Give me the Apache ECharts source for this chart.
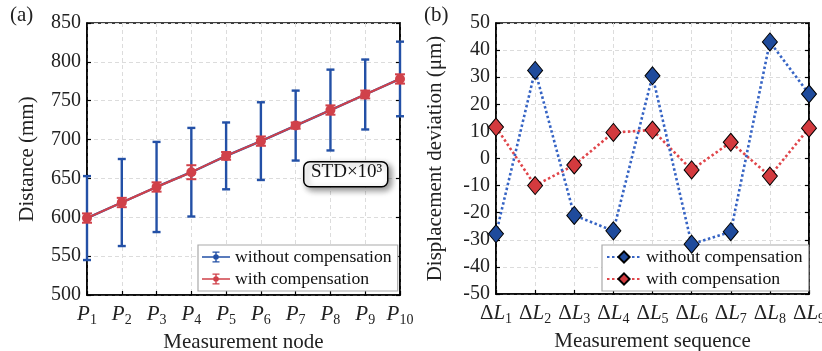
<!DOCTYPE html>
<html>
<head>
<meta charset="utf-8">
<script src="https://cdn.jsdelivr.net/npm/echarts@6/dist/echarts.min.js"></script>
<style>
  html, body { margin: 0; padding: 0; background: #fff; }
  #chart { width: 822px; height: 351px; }
</style>
</head>
<body>
<div id="chart"></div>
<script>
// (a) 测量节点距离
const nodes = ['1', '2', '3', '4', '5', '6', '7', '8', '9', '10']
const distMean = [599, 619, 639, 658, 679, 698, 718, 738, 758, 778]
const errWithout = [54, 56, 58, 57, 43, 50, 45, 52, 45, 48]
const errWith = [6, 6, 6, 9, 5, 6, 4, 6, 5, 6]

// (b) 位移偏差
const seqs = ['1', '2', '3', '4', '5', '6', '7', '8', '9']
const devWithout = [-27.8, 32.5, -21, -26.7, 30.5, -31.6, -27, 43, 23.8]
const devWith = [11.6, -10, -2.4, 9.6, 10.5, -4.2, 6, -6.5, 11.2]

const serif = 'Liberation Serif'
const blueBar = '#2350a6'
const redBar = '#d0414a'
const blueDot = '#3563c4'
const redDot = '#e0454a'

// 图例图标: 横线 + 误差棒 + 圆点.
const errIcon = 'path://M0,9H40V11H0Z M19,2H21V18H19Z M15,2H25V4H15Z M15,16H25V18H15Z M20,6A4,4 0 1 1 19.99,6Z'

const errData = (err) => distMean.map((m, i) => [i, m - err[i], m + err[i]])

const errorBar = (capHalf, width) => (params, api) => {
  const lo = api.coord([api.value(0), api.value(1)])
  const hi = api.coord([api.value(0), api.value(2)])
  const style = { stroke: api.visual('color'), lineWidth: width }
  return {
    type: 'group',
    children: [
      { type: 'line', shape: { x1: lo[0], y1: lo[1], x2: hi[0], y2: hi[1] }, style },
      { type: 'line', shape: { x1: lo[0] - capHalf, y1: lo[1], x2: lo[0] + capHalf, y2: lo[1] }, style },
      { type: 'line', shape: { x1: hi[0] - capHalf, y1: hi[1], x2: hi[0] + capHalf, y2: hi[1] }, style },
    ],
  }
}

// 所有文字都走 rich, 保证衬线字体生效.
const rich = {
  i: { fontFamily: serif, fontStyle: 'italic', fontSize: 21, color: '#222' },
  d: { fontFamily: serif, fontSize: 21, color: '#222' },
  s: { fontFamily: serif, fontSize: 14, color: '#222', padding: [12, 0, 0, 0], verticalAlign: 'bottom' },
  n: { fontFamily: serif, fontSize: 20, color: '#222' },
  t: { fontFamily: serif, fontSize: 21, color: '#222' },
  g: { fontFamily: serif, fontSize: 17.7, color: '#111' },
}

const splitLine = { show: true, lineStyle: { color: '#dcdcdc', type: [4, 3], width: 1 } }
const axisLine = { show: true, onZero: false, lineStyle: { color: '#000', width: 1.6 } }
const tick = { show: true, inside: true, length: 4, lineStyle: { color: '#000', width: 1.2 } }
const tickLabel = { margin: 6, formatter: (v) => `{n|${v}}`, rich }
const nameStyle = { fontFamily: serif, fontSize: 21, color: '#222', rich }
const legendText = { fontFamily: serif, fontSize: 17.7, color: '#111', rich }

const chart = echarts.init(document.getElementById('chart'))

chart.setOption({
  animation: false,
  textStyle: { fontFamily: serif },
  grid: [
    { left: 87, right: 422, top: 23, bottom: 56, show: true, borderColor: '#000', borderWidth: 1.6, outerBoundsMode: 'none', containLabel: false },
    { left: 496, right: 13, top: 23, bottom: 57, show: true, borderColor: '#000', borderWidth: 1.6, outerBoundsMode: 'none', containLabel: false },
  ],
  xAxis: [
    {
      gridIndex: 0, type: 'category', data: nodes, boundaryGap: false,
      axisLine, axisTick: { ...tick, interval: 0 }, splitLine: { ...splitLine, interval: 0 },
      axisLabel: { margin: 6, interval: 0, hideOverlap: false, formatter: (v) => `{i|P}{s|${v}}`, rich },
      name: '{t|Measurement node}', nameLocation: 'middle', nameGap: 36, nameTextStyle: nameStyle,
    },
    {
      gridIndex: 1, type: 'category', data: seqs, boundaryGap: false,
      axisLine, axisTick: { ...tick, interval: 0 }, splitLine: { ...splitLine, interval: 0 },
      axisLabel: { margin: 6, interval: 0, hideOverlap: false, formatter: (v) => `{d|Δ}{i|L}{s|${v}}`, rich },
      name: '{t|Measurement sequence}', nameLocation: 'middle', nameGap: 36, nameTextStyle: nameStyle,
    },
  ],
  yAxis: [
    {
      gridIndex: 0, type: 'value', min: 500, max: 850, interval: 50,
      axisLine, axisTick: tick, splitLine, axisLabel: tickLabel,
      name: '{t|Distance (mm)}', nameLocation: 'middle', nameGap: 49, nameTextStyle: nameStyle,
    },
    {
      gridIndex: 0, type: 'value', min: 500, max: 850, interval: 50, position: 'right',
      axisLine, axisTick: tick, splitLine: { show: false }, axisLabel: { show: false },
    },
    {
      gridIndex: 1, type: 'value', min: -50, max: 50, interval: 10,
      axisLine, axisTick: tick, splitLine, axisLabel: tickLabel,
      name: '{t|Displacement deviation (μm)}', nameLocation: 'middle', nameGap: 50, nameTextStyle: nameStyle,
    },
    {
      gridIndex: 1, type: 'value', min: -50, max: 50, interval: 10, position: 'right',
      axisLine, axisTick: tick, splitLine: { show: false }, axisLabel: { show: false },
    },
  ],
  legend: [
    {
      left: 198, top: 245, orient: 'vertical', itemGap: 4,
      padding: [3, 6, 3, 4], itemWidth: 28, itemHeight: 14, icon: errIcon,
      backgroundColor: '#fff', borderColor: '#aaa', borderWidth: 1.2,
      textStyle: legendText, formatter: (name) => `{g|${name}}`,
      data: ['without compensation', 'with compensation'],
    },
    {
      left: 602, top: 245, orient: 'vertical', itemGap: 4,
      padding: [3, 6, 3, 4], itemWidth: 34, itemHeight: 14,
      backgroundColor: '#fff', borderColor: '#aaa', borderWidth: 1.2,
      textStyle: legendText, formatter: (name) => `{g|${name.trim()}}`,
      data: ['without compensation ', 'with compensation '],
    },
  ],
  graphic: [
    { type: 'text', left: 10, top: 5, style: { text: '(a)', font: `21px "${serif}"`, fill: '#222' } },
    { type: 'text', left: 424, top: 5, style: { text: '(b)', font: `21px "${serif}"`, fill: '#222' } },
    {
      type: 'rect', left: 303, top: 161, z: 20,
      shape: { width: 84, height: 25, r: 6 },
      style: { fill: '#fff', stroke: '#000', lineWidth: 1.5, shadowBlur: 6, shadowOffsetX: 3, shadowOffsetY: 3, shadowColor: 'rgba(0,0,0,0.45)' },
    },
    {
      type: 'text', left: 311, top: 163, z: 21,
      style: { text: 'STD×10³', font: `19px "${serif}"`, fill: '#111' },
    },
  ],
  series: [
    {
      name: 'err without', type: 'custom', xAxisIndex: 0, yAxisIndex: 0,
      renderItem: errorBar(4, 2.4), data: errData(errWithout), itemStyle: { color: blueBar },
      encode: { x: 0, y: [1, 2] }, z: 2,
    },
    {
      name: 'without compensation', type: 'line', xAxisIndex: 0, yAxisIndex: 0,
      data: distMean, symbol: 'circle', symbolSize: 7,
      itemStyle: { color: blueBar }, lineStyle: { color: blueBar, width: 2.4 }, z: 3,
    },
    {
      name: 'err with', type: 'custom', xAxisIndex: 0, yAxisIndex: 0,
      renderItem: errorBar(5, 2), data: errData(errWith), itemStyle: { color: redBar },
      encode: { x: 0, y: [1, 2] }, z: 4,
    },
    {
      name: 'with compensation', type: 'line', xAxisIndex: 0, yAxisIndex: 0,
      data: distMean, symbol: 'circle', symbolSize: 10,
      itemStyle: { color: redBar }, lineStyle: { color: redBar, width: 2 }, z: 5,
    },
    {
      name: 'without compensation ', type: 'line', xAxisIndex: 1, yAxisIndex: 2,
      data: devWithout, symbol: 'diamond', symbolSize: [15, 18], z: 5,
      itemStyle: { color: '#1f4b9c', borderColor: '#000', borderWidth: 1 },
      lineStyle: { color: blueDot, width: 2.6, type: [2.5, 2.5] },
    },
    {
      name: 'with compensation ', type: 'line', xAxisIndex: 1, yAxisIndex: 2,
      data: devWith, symbol: 'diamond', symbolSize: [15, 18], z: 4,
      itemStyle: { color: '#d33a3e', borderColor: '#000', borderWidth: 1 },
      lineStyle: { color: redDot, width: 2.6, type: [2.5, 2.5] },
    },
  ],
})
</script>
</body>
</html>
